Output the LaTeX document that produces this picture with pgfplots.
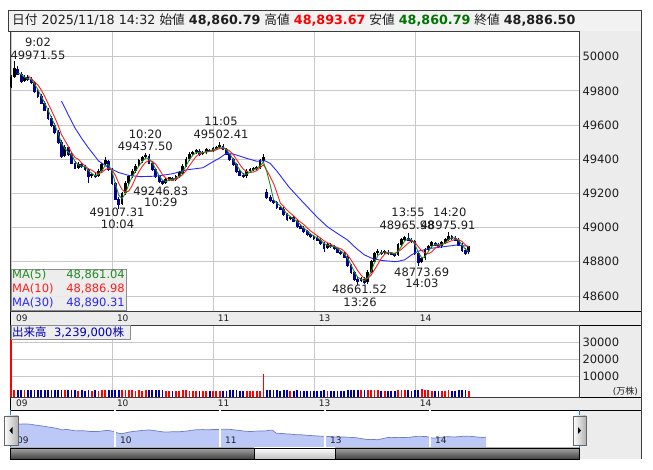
\documentclass[border=0pt]{standalone}
\usepackage{fontspec}
\setmainfont{DejaVu Sans}
\newfontfamily\jp{Noto Sans CJK JP}
\usepackage{pgfplots}
\usepackage{pgfplotstable}
\pgfplotsset{compat=1.18}
\definecolor{gridc}{RGB}{200,200,200}
\definecolor{panel}{RGB}{236,236,236}
\definecolor{downc}{RGB}{0,0,140}
\definecolor{maf}{RGB}{34,139,34}
\definecolor{mat}{RGB}{255,30,30}
\definecolor{mah}{RGB}{40,40,255}
\definecolor{volr}{RGB}{255,0,0}
\definecolor{volb}{RGB}{0,0,160}
\definecolor{navfill}{RGB}{188,200,245}
\definecolor{navline}{RGB}{110,125,200}
\definecolor{txt}{RGB}{30,30,30}
\definecolor{frame}{RGB}{60,60,60}
\newcommand\fa{\fontsize{11.5bp}{13bp}\selectfont}
\newcommand\fb{\fontsize{9bp}{10bp}\selectfont}
\newcommand\fh{\fontsize{12.7bp}{15bp}\selectfont}

\pgfplotstableread{
t o h l c v m5 m10
0 49820 49890 49815 49880 31500 nan nan
2 49880 49971.55 49875 49930 1800 nan nan
4 49930 49945 49890 49900 1700 49903 nan
6 49900 49910 49845 49860 1600 49897 nan
8 49860 49895 49850 49880 1500 49880 nan
10 49880 49892 49860 49870 1600 49870 49888
12 49870 49880 49838 49850 1500 49867 49872
14 49850 49858 49790 49800 1700 49840 49852
16 49800 49812 49760 49770 1600 49807 49834
18 49770 49780 49720 49730 1500 49767 49804
20 49730 49742 49680 49690 1600 49730 49768
22 49690 49700 49630 49640 1700 49687 49726
24 49640 49652 49590 49600 1500 49643 49686
26 49600 49612 49548 49560 1600 49600 49644
28 49560 49570 49490 49500 1700 49553 49598
30 49500 49510 49405 49420 1800 49493 49544
32 49420 49485 49412 49470 1600 49463 49510
34 49470 49478 49420 49430 1500 49440 49476
36 49430 49440 49370 49380 1600 49427 49440
38 49380 49392 49340 49350 1500 49387 49410
40 49350 49385 49342 49370 1400 49367 49400
42 49370 49380 49350 49360 1500 49360 49378
44 49360 49368 49330 49340 1400 49357 49360
46 49340 49350 49260 49300 1600 49333 49344
48 49300 49320 49290 49310 1400 49317 49336
50 49310 49318 49288 49300 1500 49303 49322
52 49300 49340 49295 49330 1400 49313 49316
54 49330 49380 49322 49370 1500 49333 49322
56 49370 49410 49362 49390 1600 49363 49340
58 49390 49398 49330 49340 1500 49367 49346
60 49340 49348 49250 49260 1700 49330 49338
62 49260 49268 49160 49170 1800 49257 49306
64 49170 49180 49107.31 49140 1900 49190 49260
66 49140 49210 49130 49200 1700 49170 49222
68 49200 49270 49190 49260 1600 49200 49206
70 49260 49310 49250 49300 1500 49253 49214
72 49300 49340 49292 49330 1500 49297 49246
74 49330 49370 49322 49360 1400 49330 49290
76 49360 49400 49352 49390 1500 49360 49328
78 49390 49420 49380 49410 1400 49387 49358
80 49410 49437.5 49400 49420 1500 49407 49382
82 49420 49428 49370 49380 1600 49403 49392
84 49380 49388 49330 49340 1500 49380 49388
86 49340 49350 49290 49300 1600 49340 49370
88 49300 49308 49262 49270 1500 49303 49342
90 49270 49278 49246.83 49260 1600 49277 49310
92 49260 49290 49252 49280 1400 49270 49290
94 49280 49298 49272 49290 1300 49277 49280
96 49290 49296 49270 49280 1400 49283 49276
98 49280 49310 49272 49300 1300 49290 49282
100 49300 49330 49292 49320 1400 49300 49294
102 49320 49370 49312 49360 1500 49327 49310
104 49360 49410 49352 49400 1500 49360 49332
106 49400 49440 49392 49430 1400 49397 49362
108 49430 49450 49422 49440 1400 49423 49390
110 49440 49462 49432 49450 1300 49440 49416
112 49450 49458 49420 49430 1300 49440 49430
114 49430 49450 49422 49440 1300 49440 49438
116 49440 49465 49432 49455 1300 49442 49443
118 49455 49462 49442 49450 1300 49448 49445
120 49450 49470 49442 49460 1300 49455 49447
122 49460 49480 49452 49470 1300 49460 49455
124 49470 49502.41 49462 49480 1400 49470 49463
126 49480 49488 49452 49460 1400 49470 49464
128 49460 49468 49422 49430 1400 49457 49460
130 49430 49438 49392 49400 1500 49430 49448
132 49400 49408 49362 49370 1500 49400 49428
134 49370 49378 49322 49330 1500 49367 49398
136 49330 49340 49302 49310 1400 49337 49368
138 49310 49318 49290 49300 1400 49313 49342
140 49300 49340 49292 49330 1300 49313 49328
142 49330 49350 49322 49340 1300 49323 49322
144 49340 49352 49332 49345 1300 49338 49325
146 49345 49358 49336 49350 1300 49345 49333
148 49350 49400 49342 49390 1400 49362 49351
150 49390 49430 49382 49410 11300 49383 49367
152 49210 49225 49165 49180 1800 49327 49335
154 49180 49190 49150 49160 1600 49250 49298
156 49160 49168 49140 49150 1500 49163 49258
158 49150 49158 49110 49120 1500 49143 49204
160 49120 49128 49100 49110 1400 49127 49144
162 49110 49118 49070 49080 1500 49103 49124
164 49080 49088 49040 49050 1500 49080 49102
166 49050 49070 49042 49060 1400 49063 49084
168 49060 49068 49030 49040 1400 49050 49068
170 49040 49048 49000 49010 1500 49037 49048
172 49010 49018 48990 49000 1400 49017 49032
174 49000 49008 48970 48980 1400 48997 49018
176 48980 48988 48950 48960 1400 48980 48998
178 48960 48968 48940 48950 1300 48963 48980
180 48950 48958 48930 48940 1400 48950 48966
182 48940 48948 48920 48930 1300 48940 48952
184 48930 48938 48900 48910 1400 48927 48938
186 48910 48918 48860 48880 1500 48907 48922
188 48880 48910 48872 48900 1400 48897 48912
190 48900 48908 48880 48890 1300 48890 48902
192 48890 48898 48870 48880 1300 48890 48892
194 48880 48888 48850 48860 1400 48877 48882
196 48860 48868 48840 48850 1400 48863 48876
198 48850 48858 48820 48830 1400 48847 48862
200 48830 48838 48770 48780 1600 48820 48840
202 48780 48788 48730 48740 1700 48783 48812
204 48740 48748 48690 48700 1800 48740 48780
206 48700 48710 48661.52 48690 1900 48710 48748
208 48690 48712 48680 48700 1600 48697 48722
210 48700 48708 48670 48680 1500 48690 48702
212 48680 48750 48672 48740 1700 48707 48702
214 48740 48810 48732 48800 1800 48740 48722
216 48800 48860 48792 48850 1700 48797 48754
218 48850 48872 48842 48860 1500 48837 48786
220 48860 48868 48840 48850 1400 48853 48820
222 48850 48870 48842 48860 1300 48857 48844
224 48860 48868 48840 48850 1300 48853 48854
226 48850 48858 48837 48845 1300 48852 48853
228 48845 48852 48830 48840 1300 48845 48849
230 48840 48910 48832 48900 1600 48862 48859
232 48900 48940 48892 48930 1600 48890 48873
234 48930 48950 48922 48940 1500 48923 48891
236 48940 48965.98 48922 48930 1500 48933 48908
238 48930 48938 48910 48920 1400 48930 48924
240 48920 48928 48840 48850 1700 48900 48914
242 48850 48858 48773.69 48800 1900 48857 48888
244 48800 48830 48790 48820 2500 48823 48864
246 48820 48880 48812 48870 1700 48830 48852
248 48870 48900 48862 48890 1500 48860 48846
250 48890 48920 48882 48910 1400 48890 48858
252 48910 48918 48890 48900 1400 48900 48878
254 48900 48908 48880 48890 1300 48900 48892
256 48890 48920 48882 48910 1300 48900 48900
258 48910 48940 48902 48930 1400 48910 48908
260 48930 48975.91 48922 48950 1500 48930 48916
262 48950 48958 48930 48940 1400 48940 48924
264 48940 48948 48920 48930 1400 48940 48932
266 48930 48938 48890 48900 1500 48923 48930
268 48900 48908 48860 48870 1500 48900 48918
270 48870 48878 48840 48850 1500 48873 48898
272 48855 48893.67 48848 48886.5 1400 48861.04 48886.98
}\pricetab

\pgfplotstableread{
t m
30 49740
34 49660
38 49583
42 49522
46 49466
52 49390
58 49350
64 49322
70 49305
77 49298
84 49300
90 49306
96 49315
104 49337
114 49350
120 49385
124 49407
128 49435
132 49430
136 49418
140 49405
146 49388
151 49390
154 49375
158 49330
165 49239
170 49185
176 49122
182 49060
188 49005
194 48965
200 48927
205 48880
210 48840
215 48818
220 48808
229 48800
234 48812
238 48840
242 48862
249 48878
257 48888
265 48898
272 48890.31
}\mathtab

\begin{document}
\begin{tikzpicture}[x=1bp,y=1bp]
\useasboundingbox (0,0) rectangle (653,470);
\fill[white] (0,0) rectangle (653,470);
% header
\filldraw[fill=panel!70!white, draw=frame] (8,439) rectangle (641,460);
\node[anchor=west, inner sep=0pt, text=txt, font=\fh] at (12,449.5)
 {{\jp 日付} 2025/11/18 14:32 {\jp 始値} \textbf{48,860.79} {\jp 高値} \textcolor{red}{\textbf{48,893.67}} {\jp 安値} \textcolor{green!45!black}{\textbf{48,860.79}} {\jp 終値} \textbf{48,886.50}};
% right panels and strips
\fill[panel] (579,11) rectangle (641,439);
\filldraw[fill=panel, draw=black] (10,145) rectangle (641,159);
\filldraw[fill=panel, draw=black] (10,60) rectangle (641,73);
\draw[frame] (641,11) -- (641,439);

% ===== main price axis =====
\begin{axis}[at={(10bp,159bp)}, anchor=south west, scale only axis,
  width=569bp, height=280bp,
  xmin=-0.6, xmax=337.5, ymin=48512, ymax=50150,
  scaled ticks=false,
  axis line style={frame},
  xtick={0,60,120,180,240}, xticklabels={09,10,11,13,14},
  xticklabel style={anchor=west, xshift=1.5bp, yshift=-7bp, font=\fb, text=txt},
  ytick={48600,48800,49000,49200,49400,49600,49800,50000},
  yticklabels={48600,48800,49000,49200,49400,49600,49800,50000},
  yticklabel pos=right,
  yticklabel style={font=\fa, text=txt, anchor=west, xshift=0bp},
  /pgf/number format/assume math mode=true,
  major tick length=0pt,
  grid=major, major grid style={gridc, line width=0.8bp},
  clip=true]
% wicks
\addplot[draw=none, mark=none, restrict expr to domain={\thisrow{c}-\thisrow{o}}{0:100000},
  error bars/.cd, y dir=both, y explicit, error mark=none,
  error bar style={draw=black, line width=0.9bp, solid}]
  table[x=t, y=c, y error plus expr={\thisrow{h}-\thisrow{c}}, y error minus expr={\thisrow{c}-\thisrow{l}}]{\pricetab};
\addplot[draw=none, mark=none, restrict expr to domain={\thisrow{c}-\thisrow{o}}{-100000:-0.001},
  error bars/.cd, y dir=both, y explicit, error mark=none,
  error bar style={draw=downc, line width=0.9bp, solid}]
  table[x=t, y=c, y error plus expr={\thisrow{h}-\thisrow{c}}, y error minus expr={\thisrow{c}-\thisrow{l}}]{\pricetab};
% bodies
\addplot[draw=none, mark=none, restrict expr to domain={\thisrow{c}-\thisrow{o}}{0:100000},
  error bars/.cd, y dir=both, y explicit, error mark=none,
  error bar style={draw=black, line width=2.8bp, solid}]
  table[x=t, y=c, y error plus expr={3}, y error minus expr={max(\thisrow{c}-\thisrow{o},3)}]{\pricetab};
\addplot[draw=none, mark=none, restrict expr to domain={\thisrow{c}-\thisrow{o}}{-100000:-0.001},
  error bars/.cd, y dir=both, y explicit, error mark=none,
  error bar style={draw=downc, line width=2.8bp, solid}]
  table[x=t, y=c, y error plus expr={max(\thisrow{o}-\thisrow{c},3)}, y error minus expr={3}]{\pricetab};
% moving averages
\addplot[mah, line width=0.9bp, mark=none] table[x=t, y=m]{\mathtab};
\addplot[mat, line width=0.9bp, mark=none] table[x=t, y=m10]{\pricetab};
\addplot[maf, line width=0.9bp, mark=none] table[x=t, y=m5]{\pricetab};
% annotations
\begin{scope}[every node/.style={font=\fa, text=txt, inner sep=0pt}]
\node at (axis cs:16.0,50083) {9:02};
\node at (axis cs:16.0,50010) {49971.55};
\node at (axis cs:79.9,49548) {10:20};
\node at (axis cs:79.8,49477) {49437.50};
\node at (axis cs:124.8,49624) {11:05};
\node at (axis cs:124.8,49545) {49502.41};
\node at (axis cs:89.0,49214) {49246.83};
\node at (axis cs:89.0,49146) {10:29};
\node at (axis cs:63.0,49088) {49107.31};
\node at (axis cs:63.3,49021) {10:04};
\node at (axis cs:207.1,48638) {48661.52};
\node at (axis cs:207.4,48565) {13:26};
\node at (axis cs:235.9,49088) {13:55};
\node at (axis cs:235.3,49015) {48965.98};
\node at (axis cs:260.7,49088) {14:20};
\node at (axis cs:259.7,49015) {48975.91};
\node at (axis cs:244.0,48740) {48773.69};
\node at (axis cs:244.2,48673) {14:03};
\end{scope}
\end{axis}

% ===== volume axis =====
\begin{axis}[at={(10bp,73bp)}, anchor=south west, scale only axis,
  width=569bp, height=72bp,
  xmin=-0.6, xmax=337.5, ymin=-2350, ymax=40180,
  scaled ticks=false,
  axis line style={frame},
  xtick={0,60,120,180,240}, xticklabels={09,10,11,13,14},
  xticklabel style={anchor=west, xshift=1.5bp, yshift=-6.5bp, font=\fb, text=txt},
  ytick={10000,20000,30000}, yticklabels={10000,20000,30000},
  yticklabel pos=right,
  yticklabel style={font=\fa, text=txt, anchor=west},
  /pgf/number format/assume math mode=true,
  major tick length=0pt,
  grid=major, major grid style={gridc, line width=0.8bp}]
\addplot[draw=none, mark=none, restrict expr to domain={\thisrow{c}-\thisrow{o}}{0:100000},
  error bars/.cd, y dir=minus, y explicit, error mark=none,
  error bar style={draw=volr, line width=1.8bp, solid}]
  table[x=t, y=v, y error minus expr={\thisrow{v}+2350}]{\pricetab};
\addplot[draw=none, mark=none, restrict expr to domain={\thisrow{c}-\thisrow{o}}{-100000:-0.001},
  error bars/.cd, y dir=minus, y explicit, error mark=none,
  error bar style={draw=volb, line width=1.8bp, solid}]
  table[x=t, y=v, y error minus expr={\thisrow{v}+2350}]{\pricetab};
\end{axis}
\node[anchor=east, font=\fb, text=txt, inner sep=0pt] at (638,79) {({\jp 万株})};

% ===== navigator =====
\begin{axis}[at={(10bp,22bp)}, anchor=south west, scale only axis,
  width=569bp, height=38bp,
  xmin=0, xmax=325.1, ymin=48055, ymax=50933,
  scaled ticks=false,
  axis line style={draw=none},
  xtick={60,120,180,240}, xticklabels={10,11,13,14},
  extra x ticks={1.2}, extra x tick labels={09},
  extra x tick style={grid=none},
  xticklabel style={anchor=west, xshift=1.5bp, yshift=8bp, font=\fb, text=txt},
  ytick=\empty,
  major tick length=0pt,
  xmajorgrids, major grid style={white, line width=1.2bp},
  axis on top]
\addplot[fill=navfill, draw=none] table[x=t, y=c]{\pricetab} \closedcycle;
\addplot[navline, line width=0.7bp, mark=none] table[x=t, y=c]{\pricetab};
\end{axis}
\draw[cyan!70!blue] (10,22) -- (10,60);
\draw[cyan!70!blue] (579,22) -- (579,60);

% scrollbar
\shade[top color=black!35, bottom color=black!75] (10,11) rectangle (579,22);
\draw[black] (10,11) rectangle (579,22);
\shade[top color=white, bottom color=black!25] (254,11) rectangle (335,22);
\draw[black] (254,11) rectangle (335,22);
% buttons
\shade[left color=white, right color=black!30] (4,25) rectangle (18,54);
\draw[black!60] (4,25) rectangle (18,54);
\fill[black] (9.5,39.5) -- (12.5,43) -- (12.5,36) -- cycle;
\shade[left color=white, right color=black!30] (573,25) rectangle (586,54);
\draw[black!60] (573,25) rectangle (586,54);
\fill[black] (581,39.5) -- (578,43) -- (578,36) -- cycle;

% MA legend box
\filldraw[fill=panel, fill opacity=0.9, draw=black!45] (11,160) rectangle (126,201);
\begin{scope}[every node/.style={font=\fa, inner sep=0pt}]
\node[anchor=west, text=maf] at (12,195) {MA(5)};
\node[anchor=east, text=maf] at (125,195) {48,861.04};
\node[anchor=west, text=mat] at (12,181) {MA(10)};
\node[anchor=east, text=mat] at (125,181) {48,886.98};
\node[anchor=west, text=mah] at (12,167) {MA(30)};
\node[anchor=east, text=mah] at (125,167) {48,890.31};
\end{scope}
% volume label box
\filldraw[fill=panel, fill opacity=0.9, draw=black!45] (11,131) rectangle (130,145);
\node[anchor=west, inner sep=0pt, text=blue!70!black, font=\fa] at (12,138) {{\jp 出来高}\ \ 3,239,000{\jp 株}};
\end{tikzpicture}
\end{document}
